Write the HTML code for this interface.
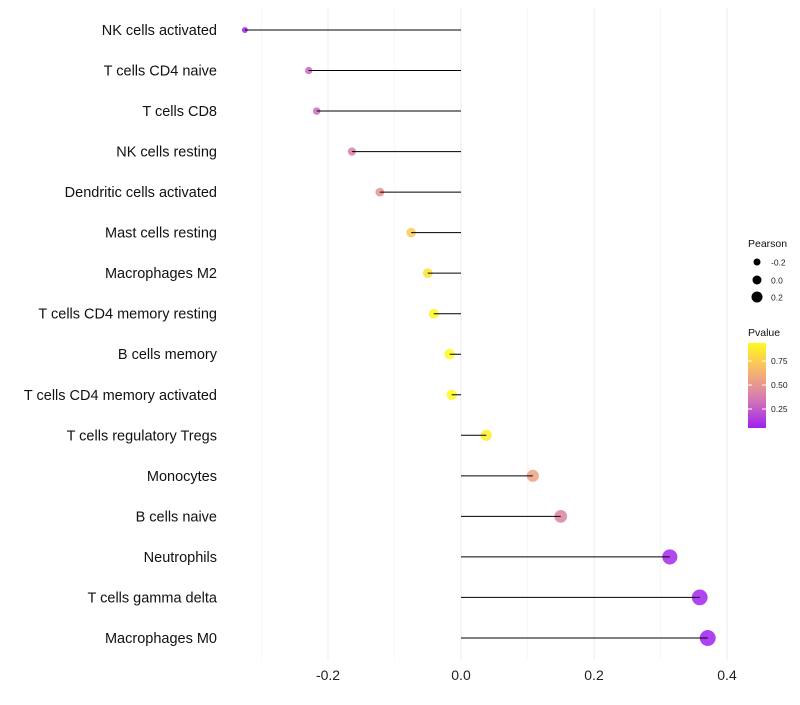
<!DOCTYPE html>
<html><head><meta charset="utf-8"><style>
body{margin:0;background:#fff;font-family:"Liberation Sans",sans-serif}
</style></head><body>
<svg id="chart" width="800" height="700" xmlns="http://www.w3.org/2000/svg"></svg>
<script>
const categories=["NK cells activated","T cells CD4 naive","T cells CD8","NK cells resting","Dendritic cells activated","Mast cells resting","Macrophages M2","T cells CD4 memory resting","B cells memory","T cells CD4 memory activated","T cells regulatory  Tregs","Monocytes","B cells naive","Neutrophils","T cells gamma delta","Macrophages M0"];
const pearson=[-0.325,-0.229,-0.217,-0.164,-0.122,-0.075,-0.050,-0.041,-0.017,-0.014,0.038,0.108,0.150,0.314,0.359,0.371];
const pvalue=[0.03,0.25,0.27,0.35,0.45,0.7,0.8,0.88,0.93,0.93,0.86,0.52,0.37,0.05,0.03,0.02];
const xTicks=[-0.2,0,0.2,0.4];
const xTickLabels=["-0.2","0.0","0.2","0.4"];
const svg=document.getElementById('chart');
const NS="http://www.w3.org/2000/svg";
function X(v){return 461+v*665;}
function Y(i){return 30+i*40.53;}
function R(v){return Math.max(1.8,5.3+7.2*v);}
function lerp(a,b,t){return a.map((x,k)=>Math.round(x+(b[k]-x)*t));}
function col(p){const t=Math.max(0,Math.min(1,(p-0.02)/(0.9-0.02)));
 const s=[[160,32,240],[212,120,180],[246,180,110],[255,250,30]];const seg=t*3;const k=Math.min(2,Math.floor(seg));
 const c=lerp(s[k],s[k+1],seg-k);return `rgb(${c[0]},${c[1]},${c[2]})`;}
function mk(tag,at,txt){const e=document.createElementNS(NS,tag);for(const k in at)e.setAttribute(k,at[k]);if(txt!==undefined)e.textContent=txt;svg.appendChild(e);return e;}
[-0.3,-0.1,0.1,0.3].forEach(v=>{const l=mk('line',{x1:X(v),x2:X(v),y1:8,y2:660,stroke:'#f3f3f3','stroke-width':0.6});});
xTicks.forEach((v,i)=>{const l=mk('line',{x1:X(v),x2:X(v),y1:8,y2:660,stroke:'#ebebeb','stroke-width':1});
 const t=mk('text',{x:X(v),y:680,'text-anchor':'middle','font-size':14,fill:'#222'},xTickLabels[i]);});
categories.forEach((c,i)=>{const y=Y(i);
 const t=mk('text',{x:217,y:y+5,'text-anchor':'end','font-size':14.5,fill:'#111'},c);
 const d=mk('circle',{cx:X(pearson[i]),cy:y,r:R(pearson[i]),fill:col(pvalue[i]),'fill-opacity':0.85});
 const l=mk('line',{x1:X(0),x2:X(pearson[i]),y1:y,y2:y,stroke:'#000','stroke-width':1});});
let t=mk('text',{x:748,y:247,'font-size':10.5,fill:'#111'},'Pearson');
[[-0.2,262,3.5],[0,280,4.5],[0.2,297,5.5]].forEach(([v,y,r],i)=>{const c=mk('circle',{cx:757,cy:y,r:r,fill:'#000'});
 const l=mk('text',{x:771,y:y+3.5,'font-size':8.5,fill:'#222'},["-0.2","0.0","0.2"][i]);});
t=mk('text',{x:748,y:336,'font-size':10.5,fill:'#111'},'Pvalue');
const defs=mk('defs',{});const g=document.createElementNS(NS,'linearGradient');g.setAttribute('id','pg');g.setAttribute('x1',0);g.setAttribute('y1',1);g.setAttribute('x2',0);g.setAttribute('y2',0);defs.appendChild(g);
for(let k=0;k<=10;k++){const s=document.createElementNS(NS,'stop');s.setAttribute('offset',k/10);s.setAttribute('stop-color',col(0.02+k*0.088));g.appendChild(s);}
const bar=mk('rect',{x:748,y:343,width:18,height:85,fill:'url(#pg)'});
[[0.75,361],[0.5,385],[0.25,409]].forEach(([v,y])=>{mk('line',{x1:748,x2:752,y1:y,y2:y,stroke:'#fff'});mk('line',{x1:762,x2:766,y1:y,y2:y,stroke:'#fff'});
 const l=mk('text',{x:771,y:y+3,'font-size':8.5,fill:'#222'},v.toFixed(2));});
</script>
</body></html>
